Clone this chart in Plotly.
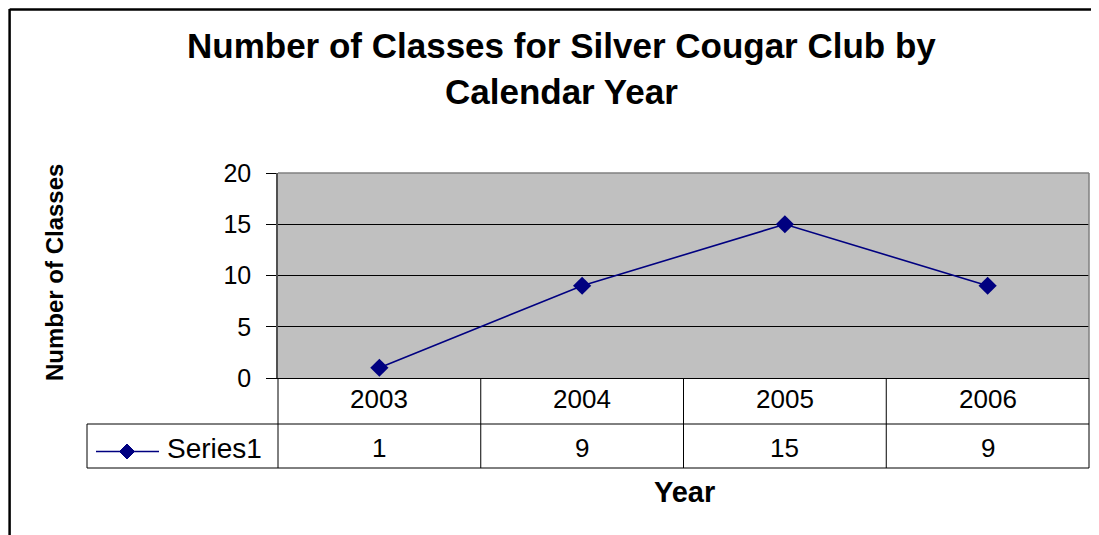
import plotly.graph_objects as go

# data
years = ["2003", "2004", "2005", "2006"]
classes = [1, 9, 15, 9]
series_name = "Series1"
y_ticks = [0, 5, 10, 15, 20]

W, H = 1099, 535
OFF = 8  # page body margin
pw, ph = 811, 205
L, T = 278 - OFF, 173 - OFF
R, B = W - L - pw, H - T - ph
bottom = T + ph

# reference pixel -> paper fraction
def px_x(x):
    return (x - OFF - L) / pw

def px_y(y):
    return (bottom - (y - OFF)) / ph

FONT = "Liberation Sans, Arial, sans-serif"
NAVY = "#000080"

fig = go.Figure()
fig.add_trace(go.Scatter(
    x=years, y=classes, mode="lines+markers", name=series_name,
    line=dict(color=NAVY, width=1.6),
    marker=dict(symbol="diamond", size=14, color=NAVY),
    showlegend=False,
))

shapes = []
# plot area top / right border (gray)
shapes.append(dict(type="line", xref="paper", yref="paper", x0=0, x1=1, y0=1, y1=1,
                   line=dict(color="#808080", width=1.5)))
shapes.append(dict(type="line", xref="paper", yref="paper", x0=1, x1=1, y0=0, y1=1,
                   line=dict(color="#808080", width=1.5)))
# data table grid
row1 = px_y(424)
row2 = px_y(468)
left_cell = px_x(87)
for yy in (row1, row2):
    shapes.append(dict(type="line", xref="paper", yref="paper", x0=left_cell, x1=1, y0=yy, y1=yy,
                       line=dict(color="black", width=1)))
shapes.append(dict(type="line", xref="paper", yref="paper", x0=left_cell, x1=left_cell, y0=row1, y1=row2,
                   line=dict(color="black", width=1)))
n = len(years)
for i in range(n + 1):
    xx = i / n
    shapes.append(dict(type="line", xref="paper", yref="paper", x0=xx, x1=xx, y0=0, y1=row2,
                       line=dict(color="black", width=1)))
# legend key in table
key_y = px_y(451.5)
shapes.append(dict(type="line", xref="paper", yref="paper", x0=px_x(96), x1=px_x(159), y0=key_y, y1=key_y,
                   line=dict(color=NAVY, width=1.6)))
shapes.append(dict(type="path", xref="paper", yref="paper", xsizemode="pixel", ysizemode="pixel",
                   xanchor=px_x(127), yanchor=key_y,
                   path="M-7.5,0 L0,7.5 L7.5,0 L0,-7.5 Z",
                   fillcolor=NAVY, line=dict(color=NAVY, width=1)))
# chart outer border (left and top edges visible)
shapes.append(dict(type="line", xref="paper", yref="paper", x0=px_x(9.6), x1=px_x(9.6), y0=px_y(570), y1=px_y(9),
                   line=dict(color="black", width=2.5)))
shapes.append(dict(type="line", xref="paper", yref="paper", x0=px_x(9.6), x1=px_x(1120), y0=px_y(9.5), y1=px_y(9.5),
                   line=dict(color="black", width=2.5)))

annotations = []
for i, (yr, v) in enumerate(zip(years, classes)):
    annotations.append(dict(x=i, y=px_y(399), xref="x", yref="paper", text=yr, showarrow=False,
                            xanchor="center", yanchor="middle", font=dict(family=FONT, size=26, color="black")))
    annotations.append(dict(x=i, y=px_y(448), xref="x", yref="paper", text=str(v), showarrow=False,
                            xanchor="center", yanchor="middle", font=dict(family=FONT, size=26, color="black")))
annotations.append(dict(x=px_x(165), y=px_y(448), xref="paper", yref="paper", text=series_name, showarrow=False,
                        xanchor="left", yanchor="middle", font=dict(family=FONT, size=28, color="black")))
annotations.append(dict(x=px_x(54), y=px_y(273), xref="paper", yref="paper", text="<b>Number of Classes</b>",
                        showarrow=False, textangle=-90, xanchor="center", yanchor="middle",
                        font=dict(family=FONT, size=24, color="black")))
annotations.append(dict(x=px_x(684), y=px_y(492), xref="paper", yref="paper", text="<b>Year</b>",
                        showarrow=False, xanchor="center", yanchor="middle",
                        font=dict(family=FONT, size=29, color="black")))
# chart title
annotations.append(dict(x=px_x(561), y=px_y(68), xref="paper", yref="paper",
                        text="<b>Number of Classes for Silver Cougar Club by<br>Calendar Year</b>",
                        showarrow=False, xanchor="center", yanchor="middle",
                        font=dict(family=FONT, size=35, color="black")))

fig.update_layout(
    width=W, height=H,
    margin=dict(l=L, r=R, t=T, b=B),
    paper_bgcolor="white",
    plot_bgcolor="#C0C0C0",
    shapes=shapes,
    annotations=annotations,
    showlegend=False,
)
fig.update_xaxes(type="category", range=[-0.5, 3.5], showticklabels=False, ticks="",
                 showgrid=False, zeroline=False, showline=True, linecolor="black", linewidth=1)
fig.update_yaxes(range=[0, 20], tickvals=y_ticks, ticks="outside", ticklen=10, tickcolor="black",
                 tickfont=dict(family=FONT, size=25, color="black"), ticklabelstandoff=10,
                 showgrid=True, gridcolor="black", gridwidth=1, zeroline=False,
                 showline=True, linecolor="#505050", linewidth=1.5)

fig.write_html("out.html")
